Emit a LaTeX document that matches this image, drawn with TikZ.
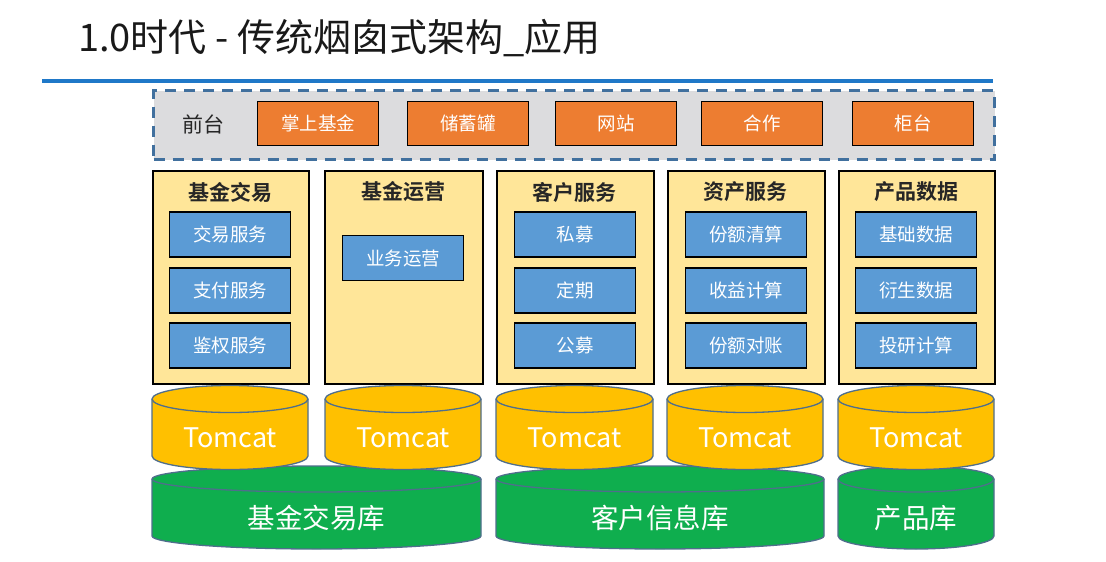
\documentclass[tikz,border=0pt]{standalone}
\usepackage{fontspec}
\setmainfont{Noto Sans CJK SC}
\newfontfamily\cjkb{Noto Sans CJK SC}[BoldFont={Noto Sans CJK SC Bold}]
\definecolor{lineblue}{HTML}{1F78C8}
\definecolor{dashblue}{HTML}{41709E}
\definecolor{panelgray}{HTML}{DCDCDE}
\definecolor{orangebox}{HTML}{ED7D31}
\definecolor{bluebox}{HTML}{5B9BD5}
\definecolor{colyellow}{HTML}{FFE699}
\definecolor{tomyellow}{HTML}{FFC000}
\definecolor{dbgreen}{HTML}{0FAE4E}
\definecolor{cylborder}{HTML}{4F6E8C}
\newcommand\mycyl[6]{% x1 x2 topcenter bottomcenter ry fill
  \pgfmathsetmacro\rxx{(#2-#1)/2}
  \filldraw[fill=#6,draw=cylborder,line width=1.3pt]
    (#1,#3) -- (#1,#4) arc[start angle=180,end angle=360,x radius=\rxx pt,y radius=#5pt]
    -- (#2,#3) arc[start angle=0,end angle=180,x radius=\rxx pt,y radius=#5pt] -- cycle;
  \draw[draw=cylborder,line width=1.3pt]
    (#1,#3) arc[start angle=180,end angle=360,x radius=\rxx pt,y radius=#5pt];
}
\tikzset{
  frontbox/.style={draw=black,line width=1.6pt,fill=orangebox,text=white,
    minimum width=121pt,minimum height=44pt,inner sep=0pt,font=\fontsize{18.5}{20}\selectfont},
  svcbox/.style={draw=black,line width=1.6pt,fill=bluebox,text=white,
    minimum width=121pt,minimum height=45pt,inner sep=0pt,font=\fontsize{18.5}{20}\selectfont},
  colbox/.style={draw=black,line width=1.6pt,fill=colyellow,inner sep=0pt},
  coltitle/.style={font=\cjkb\bfseries\fontsize{21}{23}\selectfont,text=black!85},
  tomtext/.style={text=white,font=\fontsize{27}{30}\selectfont},
  dbtext/.style={text=white,font=\fontsize{27.5}{30}\selectfont}
}
\begin{document}
\begin{tikzpicture}[x=1pt,y=-1pt]
\useasboundingbox (0,0) rectangle (1106,562);
\fill[white] (0,0) rectangle (1106,562);
% title
\node[anchor=west,inner sep=0pt,font=\fontsize{38}{42}\selectfont,text=black!90] (title) at (78,38) {1.0时代 - 传统烟囱式架构\_应用};
\draw[lineblue,line width=4pt] (42,81) coordinate (l1) -- (993,81) coordinate (l2);
% front panel
\node[draw=dashblue,fill=panelgray,line width=3pt,dash pattern=on 11pt off 8pt,
  minimum width=841pt,minimum height=69pt,inner sep=0pt,anchor=north west] (panel) at (152,89) {};
\node[font=\fontsize{21}{23}\selectfont,text=black!85] (qt) at (203,124) {前台};
\node[frontbox] (f1) at (318,123.5) {掌上基金};
\node[frontbox] (f2) at (468,123.5) {储蓄罐};
\node[frontbox] (f3) at (616,123.5) {网站};
\node[frontbox] (f4) at (762,123.5) {合作};
\node[frontbox] (f5) at (913,123.5) {柜台};
% columns
\node[colbox,minimum width=156pt,minimum height=213pt,anchor=north west] (c1) at (152,170) {};
\node[colbox,minimum width=158pt,minimum height=213pt,anchor=north west] (c2) at (324,170) {};
\node[colbox,minimum width=157pt,minimum height=213pt,anchor=north west] (c3) at (496,170) {};
\node[colbox,minimum width=157pt,minimum height=213pt,anchor=north west] (c4) at (667,170) {};
\node[colbox,minimum width=156pt,minimum height=213pt,anchor=north west] (c5) at (838,170) {};
\node[coltitle] (t1) at (230,192) {基金交易};
\node[coltitle] (t2) at (403,192) {基金运营};
\node[coltitle] (t3) at (574,192) {客户服务};
\node[coltitle] (t4) at (745,192) {资产服务};
\node[coltitle] (t5) at (916,192) {产品数据};
\node[svcbox] (s11) at (230,234.5) {交易服务};
\node[svcbox] (s12) at (230,290.5) {支付服务};
\node[svcbox] (s13) at (230,345.5) {鉴权服务};
\node[svcbox] (s21) at (403,258) {业务运营};
\node[svcbox] (s31) at (575,234.5) {私募};
\node[svcbox] (s32) at (575,290.5) {定期};
\node[svcbox] (s33) at (575,345.5) {公募};
\node[svcbox] (s41) at (746,234.5) {份额清算};
\node[svcbox] (s42) at (746,290.5) {收益计算};
\node[svcbox] (s43) at (746,345.5) {份额对账};
\node[svcbox] (s51) at (916,234.5) {基础数据};
\node[svcbox] (s52) at (916,290.5) {衍生数据};
\node[svcbox] (s53) at (916,345.5) {投研计算};
% databases
\mycyl{152}{481}{479}{536}{13}{dbgreen}
\mycyl{496}{824}{479}{536}{13}{dbgreen}
\mycyl{838}{994}{479}{536}{13}{dbgreen}
\node[dbtext] (db1) at (316.5,518) {基金交易库};
\node[dbtext] (db2) at (660,518) {客户信息库};
\node[dbtext] (db3) at (916,518) {产品库};
% tomcats
\mycyl{152}{308}{399}{456}{13.5}{tomyellow}
\mycyl{325}{481}{399}{456}{13.5}{tomyellow}
\mycyl{496}{653}{399}{456}{13.5}{tomyellow}
\mycyl{667}{823}{399}{456}{13.5}{tomyellow}
\mycyl{838}{994}{399}{456}{13.5}{tomyellow}
\node[tomtext] (tc1) at (230,438) {Tomcat};
\node[tomtext] (tc2) at (403,438) {Tomcat};
\node[tomtext] (tc3) at (574.5,438) {Tomcat};
\node[tomtext] (tc4) at (745,438) {Tomcat};
\node[tomtext] (tc5) at (916,438) {Tomcat};
\end{tikzpicture}
\end{document}
